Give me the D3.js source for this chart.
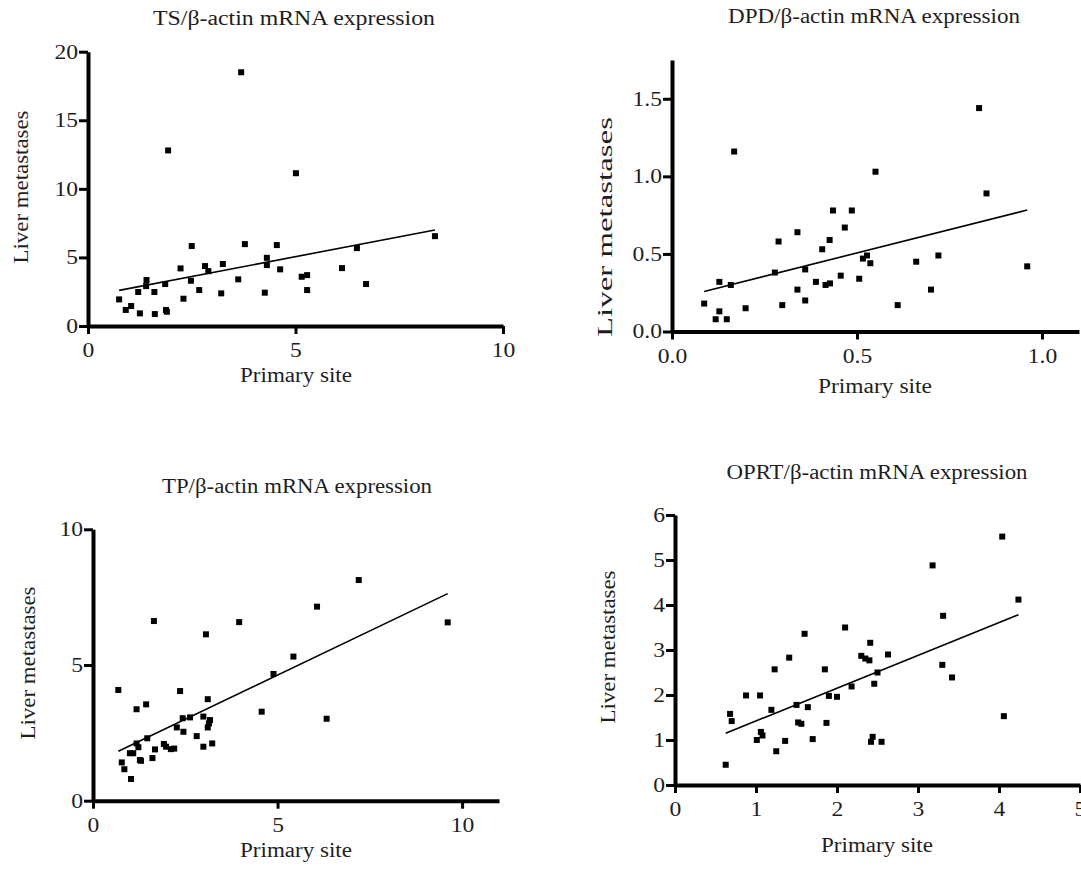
<!DOCTYPE html>
<meta charset="utf-8">
<html>
<head>
<script src="https://d3js.org/d3.v7.min.js"></script>
<style>
  body { margin: 0; background: #fff; }
  text { font-family: "Liberation Serif", "Times New Roman", serif; fill: #1e1e1e; }
</style>
</head>
<body>
<script>
// ---- data ----
var tsX = [0.75, 0.91, 1.04, 1.25, 1.21, 1.41, 1.40, 1.60, 1.61, 1.86, 1.88, 1.90, 1.93, 2.30, 2.23, 2.50, 2.48, 2.68, 2.82, 2.90,
           3.25, 3.21, 3.62, 3.69, 3.78, 4.26, 4.31, 4.31, 4.55, 4.63, 5.01, 5.15, 5.28, 5.28, 6.12, 6.48, 6.70, 8.36];
var tsY = [1.94, 1.17, 1.46, 0.92, 2.48, 3.35, 2.91, 2.48, 0.87, 3.06, 1.17, 1.04, 12.8, 1.99, 4.20, 5.83, 3.30, 2.62, 4.37, 4.00,
           4.52, 2.38, 3.40, 18.5, 5.97, 2.43, 4.97, 4.44, 5.90, 4.13, 11.14, 3.59, 3.71, 2.62, 4.22, 5.68, 3.06, 6.55];
var tsFit = [0.578, 2.166]; // slope, intercept

var dpdX = [0.087, 0.118, 0.128, 0.128, 0.148, 0.159, 0.168, 0.199, 0.278, 0.288, 0.298, 0.339, 0.339, 0.36, 0.36, 0.389,
            0.406, 0.415, 0.427, 0.426, 0.435, 0.456, 0.467, 0.486, 0.506, 0.516, 0.527, 0.536, 0.55, 0.61, 0.66, 0.70,
            0.72, 0.83, 0.85, 0.96];
var dpdY = [0.18, 0.079, 0.13, 0.32, 0.079, 0.30, 1.16, 0.15, 0.38, 0.58, 0.17, 0.64, 0.27, 0.40, 0.20, 0.32,
            0.53, 0.30, 0.31, 0.59, 0.78, 0.36, 0.67, 0.78, 0.34, 0.47, 0.49, 0.44, 1.03, 0.17, 0.45, 0.27,
            0.49, 1.44, 0.89, 0.42];
var dpdFit = [0.601, 0.206];

var tpX = [0.686, 0.78, 0.85, 1.03, 1.00, 1.09, 1.18, 1.18, 1.23, 1.27, 1.30, 1.44, 1.47, 1.61, 1.65, 1.68, 1.92, 1.98,
           2.11, 2.20, 2.36, 2.27, 2.43, 2.45, 2.63, 2.81, 2.99, 2.99, 3.06, 3.11, 3.17, 3.11, 3.14, 3.23, 3.96, 4.57,
           4.89, 5.43, 6.07, 6.33, 7.20, 9.61];
var tpY = [4.08, 1.41, 1.16, 0.80, 1.75, 1.75, 3.37, 2.11, 1.97, 1.50, 1.47, 3.55, 2.30, 1.57, 6.62, 1.89, 2.09, 1.99,
           1.90, 1.92, 4.04, 2.70, 3.04, 2.54, 3.07, 2.38, 3.10, 1.99, 6.13, 3.74, 2.97, 2.70, 2.85, 2.11, 6.58, 3.28,
           4.67, 5.31, 7.15, 3.02, 8.13, 6.57];
var tpFit = [0.651, 1.374];

var oprtX = [0.626, 0.68, 0.70, 0.877, 1.05, 1.06, 1.08, 1.01, 1.19, 1.23, 1.25, 1.36, 1.41, 1.50, 1.52, 1.56, 1.60,
             1.64, 1.70, 1.85, 1.87, 1.90, 2.00, 2.10, 2.18, 2.30, 2.35, 2.40, 2.41, 2.46, 2.50, 2.44, 2.42, 2.55,
             2.63, 3.18, 3.31, 3.30, 3.42, 4.04, 4.24, 4.06];
var oprtY = [0.45, 1.58, 1.42, 1.99, 1.99, 1.18, 1.10, 1.00, 1.67, 2.57, 0.75, 0.98, 2.83, 1.78, 1.39, 1.36, 3.36,
             1.73, 1.02, 2.57, 1.38, 1.98, 1.96, 3.50, 2.19, 2.87, 2.81, 2.77, 3.16, 2.25, 2.50, 1.07, 0.96, 0.96,
             2.90, 4.88, 3.76, 2.67, 2.39, 5.52, 4.12, 1.53];
var oprtFit = [0.729, 0.694];

var titles = ["TS/\u03b2-actin mRNA expression", "DPD/\u03b2-actin mRNA expression",
              "TP/\u03b2-actin mRNA expression", "OPRT/\u03b2-actin mRNA expression"];
var xTitle = "Primary site";
var yTitle = "Liver  metastases";

var tsXTicks = [0, 5, 10], tsYTicks = [0, 5, 10, 15, 20];
var dpdXTicks = [0, 0.5, 1.0], dpdYTicks = [0, 0.5, 1.0, 1.5];
var tpXTicks = [0, 5, 10], tpYTicks = [0, 5, 10];
var oprtXTicks = [0, 1, 2, 3, 4, 5], oprtYTicks = [0, 1, 2, 3, 4, 5, 6];

// ---- panel layout ----
var panels = [
  { x: tsX, y: tsY, fit: tsFit, title: titles[0], xd: [0, 10], yd: [0, 20], xr: [88, 503], yr: [326, 51.7],
    xt: tsXTicks, yt: tsYTicks, fmt: d3.format("d"),
    tPos: [294, 25, 282], xlPos: [296, 382, 112], ylPos: [28, 187, 153] },
  { x: dpdX, y: dpdY, fit: dpdFit, title: titles[1], xd: [0, 1.1], yd: [0, 1.75], xr: [672, 1079], yr: [331.5, 60],
    xt: dpdXTicks, yt: dpdYTicks, fmt: d3.format(".1f"),
    tPos: [874, 23, 292], xlPos: [875, 393, 114], ylPos: [612, 227, 220] },
  { x: tpX, y: tpY, fit: tpFit, title: titles[2], xd: [0, 11], yd: [0, 10], xr: [93, 499], yr: [800.7, 529.3],
    xt: tpXTicks, yt: tpYTicks, fmt: d3.format("d"),
    tPos: [297, 493, 270], xlPos: [296, 857, 112], ylPos: [35, 663, 153] },
  { x: oprtX, y: oprtY, fit: oprtFit, title: titles[3], xd: [0, 5], yd: [0, 6], xr: [675, 1080], yr: [785, 515],
    xt: oprtXTicks, yt: oprtYTicks, fmt: d3.format("d"),
    tPos: [877, 479, 301], xlPos: [877, 852, 112], ylPos: [615, 647, 153] }
];

var svg = d3.select("body").append("svg")
    .attr("width", 1081)
    .attr("height", 872);

var fontSize = 20, stretch = 1.18;

function stretchText(sel) {
  sel.each(function() {
    var w = this.getComputedTextLength();
    d3.select(this).attr("textLength", w * stretch).attr("lengthAdjust", "spacingAndGlyphs");
  });
}

panels.forEach(function(p) {
  var x = d3.scaleLinear().domain(p.xd).range(p.xr);
  var y = d3.scaleLinear().domain(p.yd).range(p.yr);
  var g = svg.append("g");

  // axes
  var gx = g.append("g")
      .attr("transform", "translate(0," + p.yr[0] + ")")
      .call(d3.axisBottom(x).tickValues(p.xt).tickFormat(p.fmt).tickSize(8).tickSizeOuter(0).tickPadding(9));
  var gy = g.append("g")
      .attr("transform", "translate(" + p.xr[0] + ",0)")
      .call(d3.axisLeft(y).tickValues(p.yt).tickFormat(p.fmt).tickSize(9).tickSizeOuter(0).tickPadding(1));

  [gx, gy].forEach(function(a) {
    a.select(".domain").attr("stroke", "#000").attr("stroke-width", 4);
    a.selectAll(".tick line").attr("stroke", "#000").attr("stroke-width", 3);
    a.selectAll(".tick text")
      .style("font-family", "Liberation Serif, serif")
      .style("font-size", fontSize + "px")
      .attr("fill", "#1e1e1e");
    stretchText(a.selectAll(".tick text"));
  });

  // regression line
  var ext = d3.extent(p.x);
  g.append("line")
      .attr("x1", x(ext[0])).attr("y1", y(p.fit[0] * ext[0] + p.fit[1]))
      .attr("x2", x(ext[1])).attr("y2", y(p.fit[0] * ext[1] + p.fit[1]))
      .attr("stroke", "#000")
      .attr("stroke-width", 1.6);

  // points
  var s = 6;
  g.selectAll("rect.pt")
    .data(p.x.map(function(v, i) { return [v, p.y[i]]; }))
    .join("rect")
      .attr("class", "pt")
      .attr("x", function(d) { return x(d[0]) - s / 2; })
      .attr("y", function(d) { return y(d[1]) - s / 2; })
      .attr("width", s)
      .attr("height", s)
      .attr("fill", "#000");

  // titles and labels
  g.append("text")
      .attr("x", p.tPos[0]).attr("y", p.tPos[1])
      .attr("text-anchor", "middle")
      .attr("textLength", p.tPos[2]).attr("lengthAdjust", "spacingAndGlyphs")
      .style("font-size", fontSize + "px")
      .text(p.title);

  g.append("text")
      .attr("x", p.xlPos[0]).attr("y", p.xlPos[1])
      .attr("text-anchor", "middle")
      .attr("textLength", p.xlPos[2]).attr("lengthAdjust", "spacingAndGlyphs")
      .style("font-size", fontSize + "px")
      .text(xTitle);

  g.append("text")
      .attr("transform", "translate(" + p.ylPos[0] + "," + p.ylPos[1] + ") rotate(-90)")
      .attr("text-anchor", "middle")
      .attr("textLength", p.ylPos[2]).attr("lengthAdjust", "spacingAndGlyphs")
      .style("font-size", fontSize + "px")
      .text(yTitle);
});
</script>
</body>
</html>
